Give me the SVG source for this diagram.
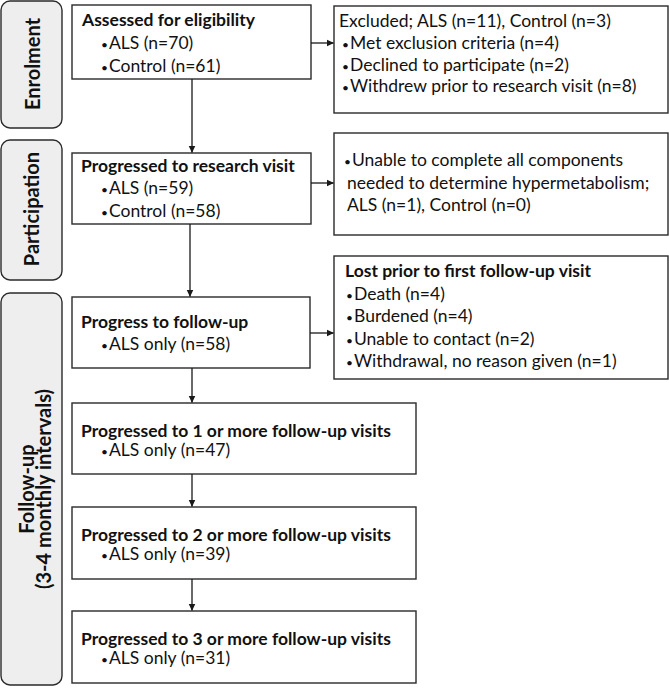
<svg xmlns="http://www.w3.org/2000/svg" width="669" height="689" viewBox="0 0 669 689">
<defs>
<marker id="ah" markerWidth="8" markerHeight="8" refX="7" refY="4" orient="auto" markerUnits="userSpaceOnUse">
<path d="M0,0.5 L7.5,4 L0,7.5 Z" fill="#1a1a1a"/>
</marker>
<style>
.box{fill:#ffffff;stroke:#2a2a2a;stroke-width:1.4}
.lab{fill:#eeeeee;stroke:#2a2a2a;stroke-width:1.4}
.t{font-family:Lato,"Liberation Sans",sans-serif;font-size:17.5px;fill:#111}
.b{font-weight:bold}
.bu{font-size:12px}
.lt{font-family:Lato,"Liberation Sans",sans-serif;font-size:20px;font-weight:bold;fill:#111;text-anchor:middle}
.c{stroke:#1a1a1a;stroke-width:1.3;fill:none;marker-end:url(#ah)}
</style>
</defs>
<rect width="669" height="689" fill="#ffffff"/>

<g id="label-enrolment">
<rect class="lab" x="1" y="1" width="61" height="127" rx="9"/>
<text class="lt" transform="translate(40,64) rotate(-90)">Enrolment</text>
</g>
<g id="label-participation">
<rect class="lab" x="1" y="140" width="61" height="140" rx="9"/>
<text class="lt" transform="translate(39,209) rotate(-90)">Participation</text>
</g>
<g id="label-followup">
<rect class="lab" x="1" y="293" width="61" height="392" rx="9"/>
<text class="lt" transform="translate(33.5,489) rotate(-90)">Follow-up</text>
<text class="lt" transform="translate(51,489) rotate(-90)">(3-4 monthly intervals)</text>
</g>

<g id="assessed">
<rect class="box" x="72" y="5" width="239" height="74"/>
<text class="t b" x="82" y="26">Assessed for eligibility</text>
<text class="t" y="49"><tspan class="bu" x="101">•</tspan><tspan x="109">ALS (n=70)</tspan></text>
<text class="t" y="72"><tspan class="bu" x="101">•</tspan><tspan x="109">Control (n=61)</tspan></text>
</g>

<g id="excluded">
<rect class="box" x="334" y="6" width="334" height="107"/>
<text class="t" x="339" y="27">Excluded; ALS (n=11), Control (n=3)</text>
<text class="t" y="49"><tspan class="bu" x="342">•</tspan><tspan x="350">Met exclusion criteria (n=4)</tspan></text>
<text class="t" y="70.5"><tspan class="bu" x="342">•</tspan><tspan x="350">Declined to participate (n=2)</tspan></text>
<text class="t" y="92"><tspan class="bu" x="342">•</tspan><tspan x="350">Withdrew prior to research visit (n=8)</tspan></text>
</g>

<g id="research-visit">
<rect class="box" x="72" y="153" width="239" height="71"/>
<text class="t b" x="81" y="172">Progressed to research visit</text>
<text class="t" y="194"><tspan class="bu" x="101">•</tspan><tspan x="109">ALS (n=59)</tspan></text>
<text class="t" y="217"><tspan class="bu" x="101">•</tspan><tspan x="109">Control (n=58)</tspan></text>
</g>

<g id="unable">
<rect class="box" x="334" y="133" width="334" height="102"/>
<text class="t" y="166"><tspan class="bu" x="344">•</tspan><tspan x="352">Unable to complete all components</tspan></text>
<text class="t" x="347" y="189">needed to determine hypermetabolism;</text>
<text class="t" x="347" y="211">ALS (n=1), Control (n=0)</text>
</g>

<g id="progress-followup">
<rect class="box" x="72" y="297" width="238" height="71"/>
<text class="t b" x="81" y="328">Progress to follow-up</text>
<text class="t" y="350"><tspan class="bu" x="101">•</tspan><tspan x="109">ALS only (n=58)</tspan></text>
</g>

<g id="lost">
<rect class="box" x="334" y="256" width="334" height="123"/>
<text class="t b" x="345" y="277">Lost prior to first follow-up visit</text>
<text class="t" y="300"><tspan class="bu" x="346">•</tspan><tspan x="354">Death (n=4)</tspan></text>
<text class="t" y="322"><tspan class="bu" x="346">•</tspan><tspan x="354">Burdened (n=4)</tspan></text>
<text class="t" y="344.5"><tspan class="bu" x="346">•</tspan><tspan x="354">Unable to contact (n=2)</tspan></text>
<text class="t" y="367"><tspan class="bu" x="346">•</tspan><tspan x="354">Withdrawal, no reason given (n=1)</tspan></text>
</g>

<g id="followup-1">
<rect class="box" x="72" y="403" width="344" height="71"/>
<text class="t b" x="81" y="437">Progressed to 1 or more follow-up visits</text>
<text class="t" y="456"><tspan class="bu" x="101">•</tspan><tspan x="109">ALS only (n=47)</tspan></text>
</g>

<g id="followup-2">
<rect class="box" x="72" y="507" width="344" height="72"/>
<text class="t b" x="81" y="541">Progressed to 2 or more follow-up visits</text>
<text class="t" y="560"><tspan class="bu" x="101">•</tspan><tspan x="109">ALS only (n=39)</tspan></text>
</g>

<g id="followup-3">
<rect class="box" x="72" y="611" width="344" height="72"/>
<text class="t b" x="81" y="645">Progressed to 3 or more follow-up visits</text>
<text class="t" y="664"><tspan class="bu" x="101">•</tspan><tspan x="109">ALS only (n=31)</tspan></text>
</g>

<g id="connectors">
<line class="c" x1="192" y1="79" x2="192" y2="152.5"/>
<line class="c" x1="190" y1="224" x2="190" y2="296.5"/>
<line class="c" x1="192" y1="368" x2="192" y2="402.5"/>
<line class="c" x1="192" y1="474" x2="192" y2="506.5"/>
<line class="c" x1="192" y1="579" x2="192" y2="610.5"/>
<line class="c" x1="311" y1="43" x2="333.5" y2="43"/>
<line class="c" x1="311" y1="183" x2="333.5" y2="183"/>
<line class="c" x1="310" y1="333" x2="333.5" y2="333"/>
</g>
</svg>
